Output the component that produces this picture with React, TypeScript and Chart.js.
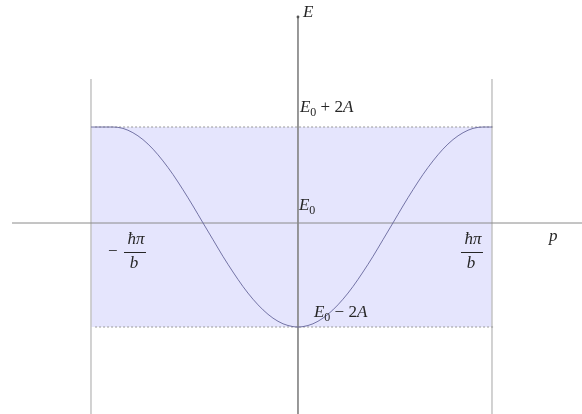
import { useEffect, useRef } from "react";
import { Chart, registerables } from "chart.js";

Chart.register(...registerables);

// Dispersion curve E(p) of a tight-binding band, p in units of ħπ/b, E relative to E0
const momentum = [
  -1.067, -1.005, -0.954, -0.902, -0.851, -0.799, -0.747, -0.696, -0.644, -0.593, -0.541,
  -0.49, -0.438, -0.387, -0.335, -0.284, -0.232, -0.18, -0.129, -0.077, -0.026, 0,
  0.026, 0.077, 0.129, 0.18, 0.232, 0.284, 0.335, 0.387, 0.438, 0.49, 0.541, 0.593,
  0.644, 0.696, 0.747, 0.799, 0.851, 0.902, 0.954, 1.0,
];
const energy = [
  1.92, 1.92, 1.92, 1.892, 1.806, 1.668, 1.476, 1.242, 0.968, 0.666, 0.34,
  0.004, -0.334, -0.666, -0.98, -1.268, -1.524, -1.738, -1.902, -2.016, -2.072, -2.08,
  -2.072, -2.016, -1.902, -1.738, -1.524, -1.268, -0.98, -0.666, -0.334, 0.004, 0.34, 0.666,
  0.968, 1.242, 1.476, 1.668, 1.806, 1.892, 1.92, 1.92,
];

// Brillouin-zone edges and band limits
const P_LEFT = -1.067;
const P_RIGHT = 1.0;
const E_TOP = 1.92;
const E_BOTTOM = -2.08;

// Plot window
const X_MIN = -1.536;
const X_MAX = 1.464;
const Y_MIN = -3.82;
const Y_MAX = 4.46;

// Extents of the drawn guide lines
const AXIS_P_START = -1.474;
const AXIS_E_TOP = 4.12;
const EDGE_E_TOP = 2.88;
const DASH_P_START = -1.046;
const DASH_P_END = 1.015;

const FONT = '"Liberation Serif", "Times New Roman", serif';
const TEXT_COLOR = "#262626";
const MAIN_SIZE = 17;
const SUB_SIZE = 12;

type Part = { t: string; italic?: boolean; sub?: boolean };

function drawRich(ctx: CanvasRenderingContext2D, parts: Part[], x: number, y: number) {
  let cx = x;
  for (const p of parts) {
    const size = p.sub ? SUB_SIZE : MAIN_SIZE;
    ctx.font = `${p.italic ? "italic " : ""}${size}px ${FONT}`;
    ctx.fillText(p.t, cx, p.sub ? y + 4 : y);
    cx += ctx.measureText(p.t).width;
  }
}

function drawFraction(ctx: CanvasRenderingContext2D, cx: number, barY: number) {
  ctx.font = `italic ${MAIN_SIZE}px ${FONT}`;
  ctx.textAlign = "center";
  ctx.fillText("ħπ", cx + 1, barY - 8);
  ctx.fillText("b", cx - 1, barY + 16);
  ctx.textAlign = "left";
  ctx.strokeStyle = TEXT_COLOR;
  ctx.lineWidth = 1;
  ctx.beginPath();
  ctx.moveTo(cx - 11, barY + 0.5);
  ctx.lineTo(cx + 11, barY + 0.5);
  ctx.stroke();
}

const labelsPlugin = {
  id: "bandLabels",
  afterDraw(chart: Chart) {
    const ctx = chart.ctx;
    const xs = chart.scales.x;
    const ys = chart.scales.y;
    const x0 = xs.getPixelForValue(0);
    const y0 = ys.getPixelForValue(0);
    const yTop = ys.getPixelForValue(E_TOP);
    const yBot = ys.getPixelForValue(E_BOTTOM);
    const xL = xs.getPixelForValue(P_LEFT);
    const xR = xs.getPixelForValue(P_RIGHT);
    const yAxisTop = ys.getPixelForValue(AXIS_E_TOP);

    ctx.save();
    ctx.textBaseline = "alphabetic";
    ctx.textAlign = "left";

    // arrow tip of the energy axis
    ctx.fillStyle = "#555";
    ctx.beginPath();
    ctx.arc(x0, yAxisTop, 1.4, 0, Math.PI * 2);
    ctx.fill();
    ctx.fillStyle = TEXT_COLOR;

    drawRich(ctx, [{ t: "E", italic: true }], x0 + 5, yAxisTop);
    drawRich(ctx, [{ t: "p", italic: true }], xs.getPixelForValue(X_MAX) - 33, y0 + 18);

    drawRich(
      ctx,
      [{ t: "E", italic: true }, { t: "0", sub: true }, { t: " + 2" }, { t: "A", italic: true }],
      x0 + 2,
      yTop - 15
    );
    drawRich(ctx, [{ t: "E", italic: true }, { t: "0", sub: true }], x0 + 1, y0 - 13);
    drawRich(
      ctx,
      [{ t: "E", italic: true }, { t: "0", sub: true }, { t: " − 2" }, { t: "A", italic: true }],
      x0 + 16,
      yBot - 10
    );

    // zone-edge labels  −ħπ/b  and  ħπ/b
    ctx.font = `${MAIN_SIZE}px ${FONT}`;
    ctx.fillText("−", xL + 17, y0 + 33);
    drawFraction(ctx, xL + 44, y0 + 29);
    drawFraction(ctx, xR - 20, y0 + 29);

    ctx.restore();
  },
};

function seg(xa: number, ya: number, xb: number, yb: number) {
  return [
    { x: xa, y: ya },
    { x: xb, y: yb },
  ];
}

export default function App() {
  const ref = useRef<HTMLCanvasElement>(null);

  useEffect(() => {
    const canvas = ref.current;
    if (!canvas) return;
    const curve = momentum.map((p, i) => ({ x: p, y: energy[i] }));
    const base = { pointRadius: 0, fill: false, tension: 0 };

    const chart = new Chart(canvas, {
      type: "line",
      data: {
        datasets: [
          {
            ...base,
            label: "E(p)",
            data: curve,
            borderColor: "rgba(95, 95, 150, 0.85)",
            borderWidth: 1,
            cubicInterpolationMode: "monotone",
            order: 0,
          },
          {
            ...base,
            label: "p axis",
            data: seg(AXIS_P_START, 0, X_MAX, 0),
            borderColor: "#8a8a8a",
            borderWidth: 1,
            order: 1,
          },
          {
            ...base,
            label: "E axis",
            data: seg(0, AXIS_E_TOP, 0, Y_MIN),
            borderColor: "#8a8a8a",
            borderWidth: 1,
            order: 1,
          },
          {
            ...base,
            label: "upper band edge",
            data: seg(DASH_P_START, E_TOP, DASH_P_END, E_TOP),
            borderColor: "#9a9a9a",
            borderWidth: 1,
            borderDash: [2, 2],
            order: 2,
          },
          {
            ...base,
            label: "lower band edge",
            data: seg(DASH_P_START, E_BOTTOM, DASH_P_END, E_BOTTOM),
            borderColor: "#9a9a9a",
            borderWidth: 1,
            borderDash: [2, 2],
            order: 2,
          },
          {
            ...base,
            label: "left zone edge",
            data: seg(P_LEFT, EDGE_E_TOP, P_LEFT, Y_MIN),
            borderColor: "#c4c4c4",
            borderWidth: 1.5,
            order: 3,
          },
          {
            ...base,
            label: "right zone edge",
            data: seg(P_RIGHT, EDGE_E_TOP, P_RIGHT, Y_MIN),
            borderColor: "#c4c4c4",
            borderWidth: 1.5,
            order: 3,
          },
          {
            ...base,
            label: "allowed band",
            data: seg(P_LEFT, E_TOP, P_RIGHT, E_TOP),
            borderWidth: 0,
            borderColor: "rgba(0,0,0,0)",
            backgroundColor: "rgb(229, 229, 253)",
            fill: { value: E_BOTTOM },
            order: 4,
          },
        ],
      },
      options: {
        responsive: false,
        animation: false,
        devicePixelRatio: 1,
        layout: { padding: 0 },
        plugins: {
          legend: { display: false },
          tooltip: { enabled: false },
          title: { display: false },
        },
        scales: {
          x: { type: "linear", min: X_MIN, max: X_MAX, display: false },
          y: { type: "linear", min: Y_MIN, max: Y_MAX, display: false },
        },
      },
      plugins: [labelsPlugin],
    } as any);

    return () => chart.destroy();
  }, []);

  return (
    <div style={{ position: "absolute", left: 0, top: 0, width: 582, height: 414, background: "#fff" }}>
      <canvas ref={ref} width={582} height={414} style={{ display: "block", width: 582, height: 414 }} />
    </div>
  );
}
